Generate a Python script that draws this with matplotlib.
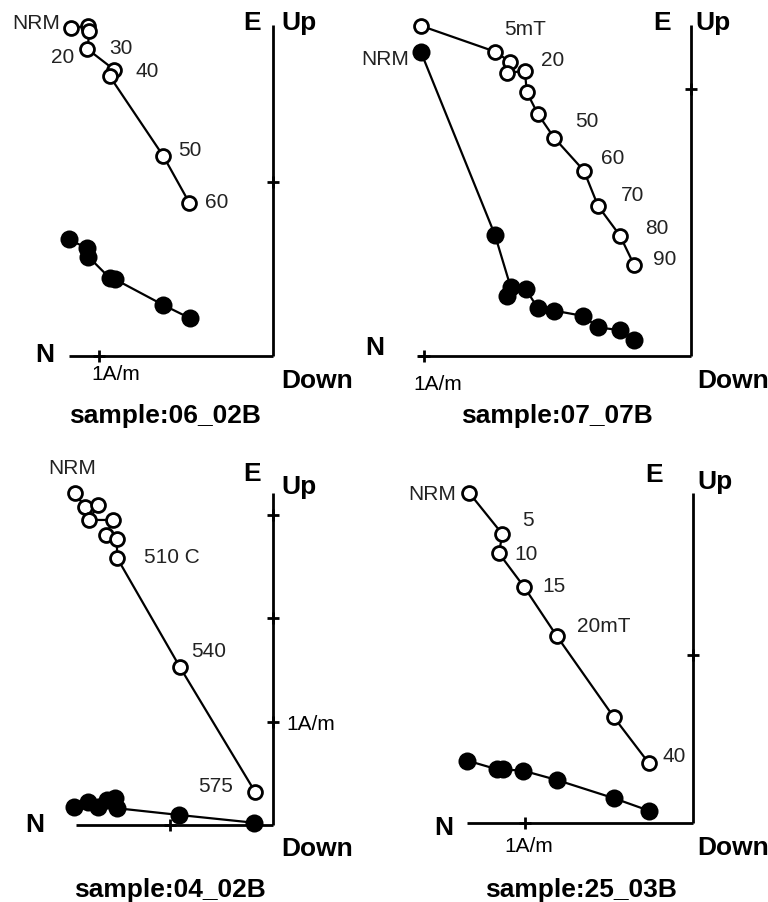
import matplotlib
matplotlib.use("Agg")
import matplotlib.pyplot as plt

plt.rcParams['font.family'] = ['Liberation Sans', 'DejaVu Sans']

# ---------------- data (A/m) ----------------
# Panel 06_02B
s1_name = "sample:06_02B"
s1_vert_north = [1.164, 1.063, 1.057, 1.068, 0.913, 0.941, 0.632, 0.483]
s1_vert_up = [1.885, 1.898, 1.865, 1.764, 1.644, 1.609, 1.149, 0.881]
s1_hor_north = [1.174, 1.072, 1.063, 0.939, 0.910, 0.632, 0.479]
s1_hor_east = [0.671, 0.619, 0.571, 0.447, 0.441, 0.293, 0.217]
s1_labels = [("v", 0, "NRM"), ("v", 3, "20"), ("v", 4, "30"), ("v", 5, "40"),
             ("v", 6, "50"), ("v", 7, "60")]

# Panel 07_07B
s2_name = "sample:07_07B"
s2_vert_north = [1.011, 0.733, 0.677, 0.687, 0.621, 0.614, 0.572, 0.512, 0.400, 0.347, 0.265, 0.212]
s2_vert_up = [1.237, 1.140, 1.102, 1.059, 1.069, 0.988, 0.906, 0.818, 0.694, 0.562, 0.451, 0.341]
s2_hor_north = [1.011, 0.733, 0.674, 0.687, 0.618, 0.572, 0.512, 0.402, 0.347, 0.265, 0.212]
s2_hor_east = [1.140, 0.453, 0.257, 0.225, 0.250, 0.179, 0.170, 0.150, 0.107, 0.097, 0.060]
s2_labels = [("h", 0, "NRM"), ("v", 1, "5mT"), ("v", 4, "20"), ("v", 7, "50"),
             ("v", 8, "60"), ("v", 9, "70"), ("v", 10, "80"), ("v", 11, "90")]

# Panel 04_02B
s3_name = "sample:04_02B"
s3_vert_north = [1.920, 1.823, 1.700, 1.781, 1.549, 1.620, 1.516, 1.510, 0.903, 0.177]
s3_vert_up = [3.217, 3.076, 3.098, 2.953, 2.953, 2.807, 2.766, 2.582, 1.527, 0.322]
s3_hor_north = [1.929, 1.791, 1.694, 1.613, 1.532, 1.510, 0.910, 0.187]
s3_hor_east = [0.171, 0.226, 0.171, 0.242, 0.258, 0.162, 0.097, 0.022]
s3_labels = [("v", 0, "NRM"), ("v", 7, "510 C"), ("v", 8, "540"), ("v", 9, "575")]

# Panel 25_03B
s4_name = "sample:25_03B"
s4_vert_north = [1.333, 1.135, 1.155, 1.006, 0.811, 0.470, 0.262]
s4_vert_up = [1.968, 1.722, 1.607, 1.408, 1.115, 0.630, 0.357]
s4_hor_north = [1.343, 1.165, 1.129, 1.010, 0.811, 0.470, 0.262]
s4_hor_east = [0.373, 0.321, 0.321, 0.313, 0.258, 0.149, 0.075]
s4_labels = [("v", 0, "NRM"), ("v", 1, "5"), ("v", 2, "10"), ("v", 3, "15"),
             ("v", 4, "20mT"), ("v", 6, "40")]

# ---------------- layout ----------------
W, H = 768, 902
fig = plt.figure(figsize=(W / 100, H / 100), dpi=100)
fig.patch.set_facecolor("white")

FS = 15        # small labels
FSB = 19       # bold axis labels

panels = [
    dict(data=(s1_vert_north, s1_vert_up, s1_hor_north, s1_hor_east), labels=s1_labels, name=s1_name,
         box=(0, 0, 384, 450), corner=(273.3, 356), unit=174,
         hlen=1.172, vlen=1.902, hticks=[1], vticks=[1],
         label_off=[(-10.7, 4.7, "right"), (-13.5, -8, "right"), (6.2, 21.7, "center"),
                    (25.5, 5, "left"), (14.4, 6, "left"), (15.7, 0, "left")],
         E=(-21.3, 333), Up=(8.4, 333), N=(-228.3, 1), Down=(8.4, -25),
         scale=(-157.6, -19, "center"), title=(-108.3, -60)),
    dict(data=(s2_vert_north, s2_vert_up, s2_hor_north, s2_hor_east), labels=s2_labels, name=s2_name,
         box=(384, 0, 768, 450), corner=(690.7, 356), unit=267,
         hlen=1.024, vlen=1.240, hticks=[1], vticks=[1],
         label_off=[(-11.7, -8.3, "right"), (29.7, 22.4, "center"), (15.7, 9.7, "left"),
                    (20.7, 16, "left"), (17.3, 12.4, "left"), (22.7, 10, "left"),
                    (24.7, 7.4, "left"), (19.3, 5.7, "left")],
         E=(-29, 332.7), Up=(5, 332.7), N=(-315.7, 7.7), Down=(6.6, -25),
         scale=(-253.4, -29, "center"), title=(-133.7, -60)),
    dict(data=(s3_vert_north, s3_vert_up, s3_hor_north, s3_hor_east), labels=s3_labels, name=s3_name,
         box=(0, 450, 384, 902), corner=(273.3, 825), unit=103.3,
         hlen=1.910, vlen=3.211, hticks=[1], vticks=[1, 2, 3],
         label_off=[(-2.3, 24.4, "center"), (26.7, 1, "left"), (10.7, 15.6, "left"),
                    (-21.7, 5.7, "right")],
         E=(-21, 351), Up=(8.4, 337.7), N=(-238.3, 0), Down=(8.4, -24),
         scale=(13.4, 100, "left"), title=(-103, -65)),
    dict(data=(s4_vert_north, s4_vert_up, s4_hor_north, s4_hor_east), labels=s4_labels, name=s4_name,
         box=(384, 450, 768, 902), corner=(693, 823.3), unit=168,
         hlen=1.343, vlen=1.964, hticks=[1], vticks=[1],
         label_off=[(-13.3, -2.3, "right"), (20, 14, "left"), (15.7, -1, "left"),
                    (18.3, 0, "left"), (20.6, 9.3, "left"), (13.3, 6.6, "left")],
         E=(-39, 348.3), Up=(4.3, 341), N=(-249.7, -5), Down=(4.3, -25),
         scale=(-164, -23.4, "center"), title=(-112.3, -66.7)),
]

for p in panels:
    x0, y0, x1, y1 = p["box"]
    cx, cy = p["corner"]
    u = p["unit"]
    ax = fig.add_axes([x0 / W, 1 - y1 / H, (x1 - x0) / W, (y1 - y0) / H])
    ax.set_xlim((cx - x0) / u, (cx - x1) / u)   # north positive to the left
    ax.set_ylim((cy - y1) / u, (cy - y0) / u)
    ax.axis("off")

    # axes
    ax.plot([0, p["hlen"]], [0, 0], color="k", lw=2, solid_capstyle="butt", zorder=1)
    ax.plot([0, 0], [0, p["vlen"]], color="k", lw=2, solid_capstyle="butt", zorder=1)
    ax.plot(p["hticks"], [0] * len(p["hticks"]), "+", color="k", ms=9, mew=2, zorder=1)
    ax.plot([0] * len(p["vticks"]), p["vticks"], "+", color="k", ms=9, mew=2, zorder=1)

    vn, vu, hn, he = p["data"]
    # horizontal projection (filled)
    ax.plot(hn, he, "-", color="k", lw=1.6, zorder=2)
    ax.plot(hn, he, "o", color="k", ms=13, mew=0, zorder=3)
    # vertical projection (open)
    ax.plot(vn, vu, "-", color="k", lw=1.6, zorder=4)
    ax.plot(vn, vu, "o", mfc="white", mec="k", ms=10, mew=2, zorder=5)

    for (ser, idx, txt), (dx, dy, ha) in zip(p["labels"], p["label_off"]):
        if ser == "v":
            xy = (vn[idx], vu[idx])
        else:
            xy = (hn[idx], he[idx])
        ax.annotate(txt, xy=xy, xytext=(dx, dy), textcoords="offset pixels",
                    ha=ha, va="center", fontsize=FS, color="#222222", zorder=6)

    def lab(txt, off, ha, bold=True, fs=FSB):
        ax.annotate(txt, xy=(0, 0), xytext=off, textcoords="offset pixels",
                    ha=ha, va="center", fontsize=fs,
                    fontweight="bold" if bold else "normal", color="k",
                    annotation_clip=False)

    lab("E", p["E"], "center")
    lab("Up", p["Up"], "left")
    lab("N", p["N"], "center")
    lab("Down", p["Down"], "left")
    sdx, sdy, sha = p["scale"]
    lab("1A/m", (sdx, sdy), sha, bold=False, fs=FS)
    lab(p["name"], p["title"], "center")

fig.savefig("out.png", dpi=100)
